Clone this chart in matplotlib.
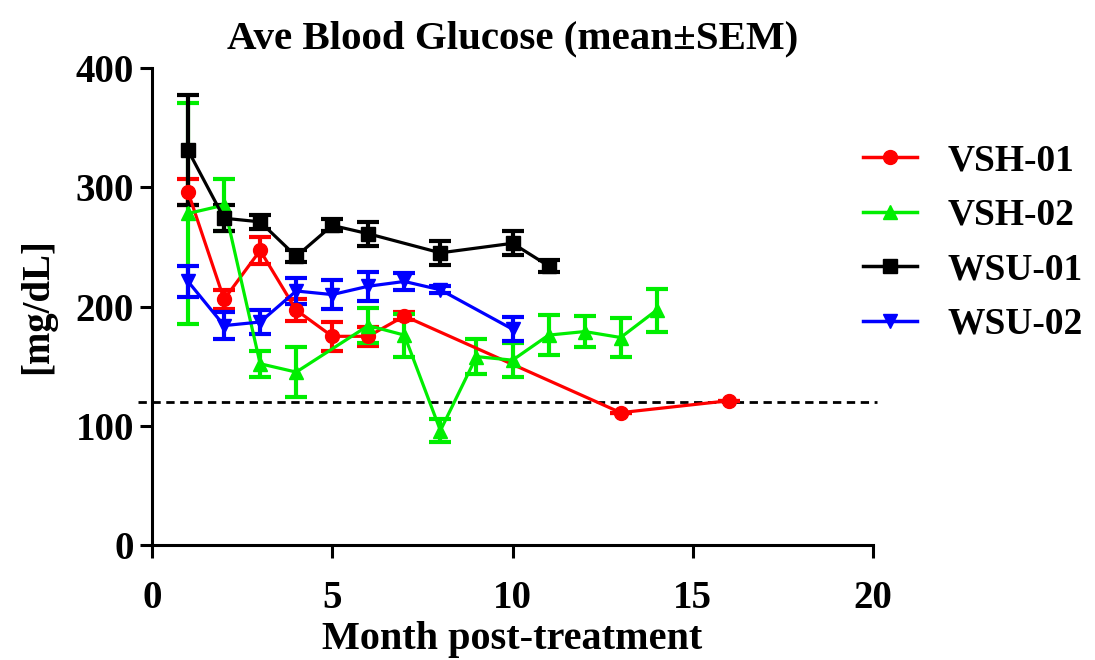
import numpy as np
import matplotlib
matplotlib.use('Agg')
import matplotlib.pyplot as plt
from matplotlib.lines import Line2D

plt.rcParams['font.family'] = 'Liberation Serif'
plt.rcParams['font.weight'] = 'bold'

# VSH-01
m_vsh01 = [1, 2, 3, 4, 5, 6, 7, 13, 16]
v_vsh01 = [296, 206, 247, 197, 175, 175, 192, 111, 121]
e_vsh01 = [11, 8, 11, 9, 12, 8, 3, 0, 0]

# VSH-02
m_vsh02 = [1, 2, 3, 4, 6, 7, 8, 9, 10, 11, 12, 13, 14]
v_vsh02 = [278, 285, 152, 145, 184, 176, 96, 158, 155, 176, 179, 174, 197]
e_vsh02 = [93, 22, 11, 21, 15, 18, 10, 15, 14, 17, 13, 16, 18]

# WSU-01
m_wsu01 = [1, 2, 3, 4, 5, 6, 8, 10, 11]
v_wsu01 = [331, 274, 271, 242, 268, 261, 245, 253, 234]
e_wsu01 = [46, 11, 6, 5, 5, 10, 10, 10, 5]

# WSU-02
m_wsu02 = [1, 2, 3, 4, 5, 6, 7, 8, 10]
v_wsu02 = [221, 184, 187, 213, 210, 217, 221, 214, 181]
e_wsu02 = [13, 11, 10, 11, 12, 12, 7, 3, 10]

threshold = 120

series = [
    ('VSH-01', m_vsh01, v_vsh01, e_vsh01, '#ff0000', 'o'),
    ('VSH-02', m_vsh02, v_vsh02, e_vsh02, '#00ee00', '^'),
    ('WSU-01', m_wsu01, v_wsu01, e_wsu01, '#000000', 's'),
    ('WSU-02', m_wsu02, v_wsu02, e_wsu02, '#0000ff', 'v'),
]

fig = plt.figure(figsize=(10.95, 6.6), dpi=100)
ax = fig.add_axes([0.1388, 0.1742, 0.7973 - 0.1388, 0.897 - 0.1742])

handles = []
for name, x, y, e, c, mk in series:
    ax.errorbar(x, y, yerr=e, color=c, marker=mk, markersize=10, linewidth=2.3,
                elinewidth=3, capsize=8, capthick=3, zorder=3)
    handles.append(Line2D([], [], color=c, marker=mk, markersize=10, linewidth=2.5, label=name))

ax.plot([-0.4, 20.1], [threshold, threshold], color='black', linestyle=(0, (3, 2)),
        linewidth=2, clip_on=False, zorder=2)

ax.set_xlim(0, 20)
ax.set_ylim(0, 400)
ax.set_xticks([0, 5, 10, 15, 20])
ax.set_yticks([0, 100, 200, 300, 400])
for s in ['top', 'right']:
    ax.spines[s].set_visible(False)
for s in ['left', 'bottom']:
    ax.spines[s].set_linewidth(2.2)
ax.tick_params(direction='out', length=9, width=2.2, labelsize=28)
ax.tick_params(axis='x', pad=16)
ax.tick_params(axis='y', pad=4)

ax.set_title('Ave Blood Glucose (mean±SEM)', fontsize=29.5, fontweight='bold', pad=14)
ax.set_xlabel('Month post-treatment', fontsize=29, fontweight='bold', labelpad=3)
ax.set_ylabel('[mg/dL]', fontsize=28, fontweight='bold', labelpad=14)

fig.legend(handles=handles, loc='upper left', bbox_to_anchor=(0.788, 0.783),
           bbox_transform=fig.transFigure, frameon=False, fontsize=27,
           handlelength=1.45, handletextpad=0.8, labelspacing=0.52,
           borderaxespad=0, borderpad=0)

fig.savefig('out.png', dpi=100)
